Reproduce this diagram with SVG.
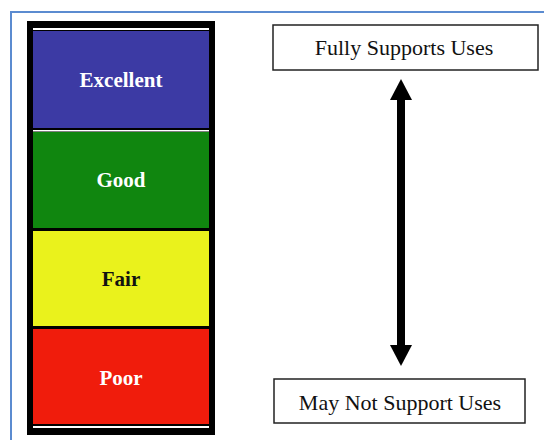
<svg xmlns="http://www.w3.org/2000/svg" width="544" height="440" viewBox="0 0 544 440">
<defs>
<marker id="head" viewBox="0 0 21 22" refX="0" refY="11" markerWidth="21" markerHeight="22" markerUnits="userSpaceOnUse" orient="auto-start-reverse">
<path d="M0,0 L21,11 L0,22 Z" fill="#000"/>
</marker>
</defs>
<rect width="544" height="440" fill="#fff"/>
<path d="M11,440 V12 H544" fill="none" stroke="#5b8bd0" stroke-width="2"/>
<g id="scale">
<rect x="27" y="21" width="188" height="414" fill="#000"/>
<rect x="33" y="28" width="176" height="2" fill="#fff"/>
<rect x="33" y="426" width="176" height="2" fill="#fff"/>
<rect x="33" y="130" width="176" height="1.5" fill="#fff"/>
</g>
<g font-family="Liberation Serif" font-weight="bold" font-size="21" text-anchor="middle">
<g id="excellent">
<rect x="33" y="31" width="176" height="97" fill="#3c3aa4"/>
<text x="121" y="87" fill="#fff">Excellent</text>
</g>
<g id="good">
<rect x="33" y="132" width="176" height="96" fill="#10860f"/>
<text x="121" y="187" fill="#fff">Good</text>
</g>
<g id="fair">
<rect x="33" y="231" width="176" height="95" fill="#eaf21c"/>
<text x="121" y="286" fill="#111">Fair</text>
</g>
<g id="poor">
<rect x="33" y="329" width="176" height="95" fill="#f01c0c"/>
<text x="121" y="385" fill="#fff">Poor</text>
</g>
</g>
<g font-family="Liberation Serif" font-size="22" text-anchor="middle" fill="#111">
<g id="fully">
<rect x="273" y="25" width="265" height="45" fill="#fff" stroke="#222" stroke-width="1.5"/>
<text x="404" y="55">Fully Supports Uses</text>
</g>
<g id="maynot">
<rect x="274" y="379" width="251" height="44" fill="#fff" stroke="#222" stroke-width="1.5"/>
<text x="400" y="410">May Not Support Uses</text>
</g>
</g>
<g id="connectors">
<line x1="401" y1="100" x2="401" y2="345" stroke="#000" stroke-width="8" marker-start="url(#head)" marker-end="url(#head)"/>
</g>
</svg>
